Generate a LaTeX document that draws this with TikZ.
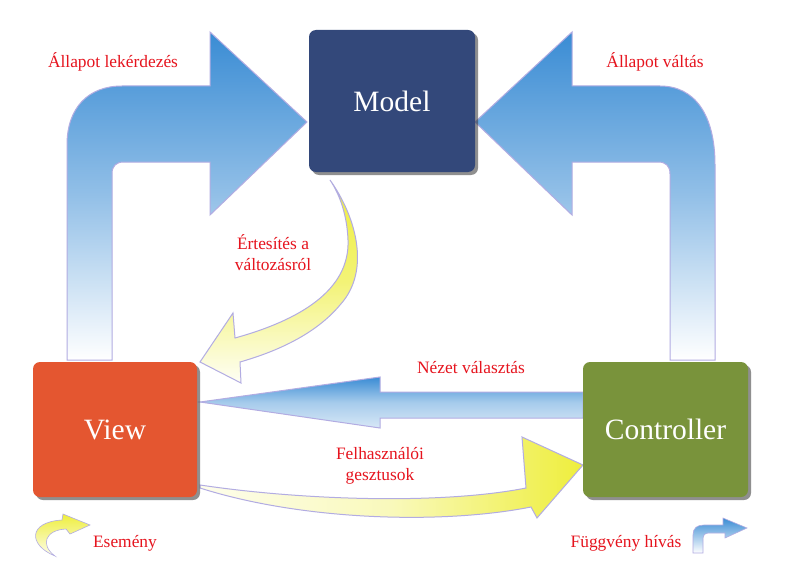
\documentclass[tikz,border=0pt]{standalone}
\usepackage{fontspec}
\setmainfont{Liberation Serif}
\usetikzlibrary{shadows}
\begin{document}
\begin{tikzpicture}[x=1pt, y=-1pt,
    box/.style={rectangle, rounded corners=7pt, text=white, font=\fontsize{29.5}{33}\selectfont,
      drop shadow={shadow xshift=3pt, shadow yshift=-3pt, opacity=0.55, fill=black!80}},
    lbl/.style={text=mvc-red, font=\fontsize{17.4}{21}\selectfont, align=center, inner sep=0pt},
    bluearrow/.style={draw=edge-lav, line width=1pt, top color=arr-blue, bottom color=white, middle color=arr-blue!55!white},
    flatarrow/.style={draw=edge-lav, line width=1pt, top color=arr-blue, bottom color=arr-blue!20!white, middle color=arr-blue!45!white},
    yellowdown/.style={draw=edge-lav, line width=1pt, top color=arr-yellow, bottom color=arr-yellow!5!white, middle color=arr-yellow!70!white},
    yellowright/.style={draw=edge-lav, line width=1pt, left color=arr-yellow!10!white, right color=arr-yellow, middle color=arr-yellow!35!white}]
    \definecolor{mvc-navy}{RGB}{51,72,122}
    \definecolor{mvc-orange}{RGB}{228,86,48}
    \definecolor{mvc-olive}{RGB}{121,147,59}
    \definecolor{mvc-red}{RGB}{230,20,30}
    \definecolor{arr-blue}{RGB}{58,140,212}
    \definecolor{arr-yellow}{RGB}{238,238,60}
    \definecolor{edge-lav}{RGB}{178,172,226}
    \useasboundingbox[fill=white] (0,0) rectangle (792,583);
    \shade[bluearrow] (67,360) -- (67,145) .. controls (67,108) and (88,86) .. (122,86) -- (210,86) -- (210,32) -- (307,122) -- (210,215) -- (210,162) -- (124,162) .. controls (116,162) and (112,166) .. (112,174) -- (112,360) -- cycle;
    \shade[bluearrow] (715,360) -- (715,165) .. controls (715,115) and (695,86) .. (660,86) -- (572,86) -- (572,32) -- (475,122) -- (572,215) -- (572,162) -- (658,162) .. controls (666,162) and (670,166) .. (670,174) -- (670,360) -- cycle;
    \shade[flatarrow] (583,392) -- (380,392) -- (380,377) -- (200,402) -- (380,428) -- (380,418) -- (583,418) -- cycle;
    \shade[yellowdown] (330,180) .. controls (355,215) and (372,270) .. (340,305) .. controls (315,335) and (275,352) .. (240,362) -- (241,383) -- (200,362) -- (233,313) -- (235,338) .. controls (300,320) and (350,290) .. (348,240) .. controls (347,215) and (340,195) .. (330,180) -- cycle;
    \shade[yellowright] (200,485) .. controls (300,500) and (440,505) .. (526,488) -- (522,437) -- (583,465) -- (537,518) -- (531,507) .. controls (440,525) and (300,520) .. (200,488) -- cycle;
    \shade[draw=edge-lav, line width=0.6pt, top color=arr-yellow, bottom color=arr-yellow!10!white] (55,556) .. controls (28,545) and (28,522) .. (62,520) -- (63,514) -- (90,525) -- (70,534) -- (66,529) .. controls (45,530) and (40,545) .. (55,556) -- cycle;
    \shade[draw=edge-lav, line width=0.6pt, top color=arr-blue, bottom color=white] (693,553) -- (693,535) .. controls (693,528) and (697,525) .. (704,525) -- (723,525) -- (723,518) -- (747,528) -- (725,538) -- (725,533) -- (708,533) .. controls (705,533) and (703,535) .. (703,538) -- (703,553) -- cycle;
    \node[box, fill=mvc-navy, minimum width=166pt, minimum height=142pt] (model) at (392,101) {Model};
    \node[box, fill=mvc-orange, minimum width=164pt, minimum height=135pt] (view) at (115,429.5) {View};
    \node[box, fill=mvc-olive, minimum width=165pt, minimum height=135pt] (ctrl) at (665.5,429.5) {Controller};
    \node[lbl] (lblQuery) at (113,62) {Állapot lekérdezés};
    \node[lbl] (lblChange) at (655,62) {Állapot váltás};
    \node[lbl] (lblNotify) at (273,253) {Értesítés a\\változásról};
    \node[lbl] (lblSelect) at (471,368) {Nézet választás};
    \node[lbl] (lblGesture) at (380,466) {Felhasználói\\gesztusok};
    \node[lbl] (lblEvent) at (125,543) {Esemény};
    \node[lbl] (lblCall) at (626,543) {Függvény hívás};
  \end{tikzpicture}
\end{document}
